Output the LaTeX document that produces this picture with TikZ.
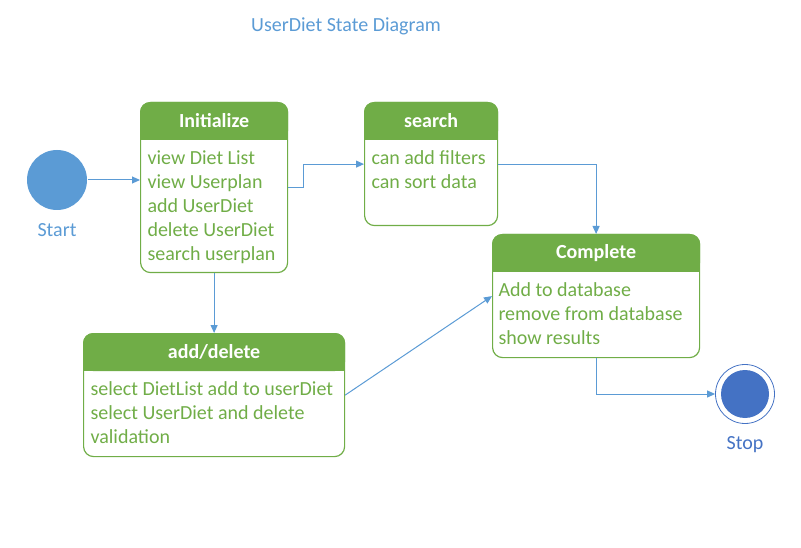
\documentclass[tikz,border=0pt]{standalone}
\usepackage{fontspec}
\setmainfont{Carlito}
\usepackage{tikz}
\usetikzlibrary{backgrounds}
\usetikzlibrary{positioning}
\usetikzlibrary{arrows.meta}
\definecolor{umlgreen}{HTML}{70AD47}
\definecolor{umlblue}{HTML}{5B9BD5}
\definecolor{umldark}{HTML}{4472C4}

\begin{document}
\begin{tikzpicture}[
            x = 1pt, y = -1pt, % pixel grid, y downwards
            > = {Triangle[length=8pt,width=7pt]}, % arrow head style
            line width = 1pt,
            statebox/.style = {draw = umlgreen, line width = 1.2pt, rounded corners = 10pt, anchor = north west, inner sep = 0pt},
            headtext/.style = {text = white, font = \fontsize{20}{24}\selectfont\bfseries},
            bodytext/.style = {text = umlgreen, anchor = north west, align = left, inner sep = 0pt, font = \fontsize{20}{24}\selectfont},
            trans/.style = {draw = umlblue, ->}
        ]

        \useasboundingbox (0,0) rectangle (801,548);

        % title
        \node[text = umlblue, font = \fontsize{20}{24}\selectfont] (title) at (346,26) {UserDiet State Diagram};

        % start and stop
        \node[circle, fill = umlblue, minimum size = 60pt, inner sep = 0pt] (start) at (57,180) {};
        \node[text = umlblue, font = \fontsize{20}{24}\selectfont] (startlbl) at (57,230) {Start};

        \node[circle, draw = umldark, line width = 0.8pt, fill = white, minimum size = 59pt, inner sep = 0pt] (stop) at (745,394) {};
        \node[circle, fill = umldark, minimum size = 48pt, inner sep = 0pt] (stopdot) at (stop.center) {};
        \node[text = umldark, font = \fontsize{20}{24}\selectfont] (stoplbl) at (745,445) {Stop};

        % states
        \node[statebox, minimum width = 147pt, minimum height = 170pt] (init) at (140,102) {};
        \node[statebox, minimum width = 133pt, minimum height = 123pt] (search) at (364,102) {};
        \node[statebox, minimum width = 207pt, minimum height = 123pt] (complete) at (492,234) {};
        \node[statebox, minimum width = 261pt, minimum height = 123pt] (adddel) at (83,333) {};

        \begin{scope}[on background layer]
        \foreach \s in {init, search, complete, adddel} {
            \fill[umlgreen, rounded corners = 10pt] (\s.north west) rectangle ([yshift=-38pt]\s.north east);
            \fill[umlgreen] ([yshift=-20pt]\s.north west) rectangle ([yshift=-38pt]\s.north east);
        }
        \end{scope}

        \node[headtext] (inithead) at ([yshift=-19pt]init.north) {Initialize};
        \node[headtext] (searchhead) at ([yshift=-19pt]search.north) {search};
        \node[headtext] (completehead) at ([yshift=-19pt]complete.north) {Complete};
        \node[headtext] (adddelhead) at ([yshift=-19pt]adddel.north) {add/delete};

        \node[bodytext] (initbody) at ([xshift=7pt,yshift=-48pt]init.north west)
            {view Diet List\\view Userplan\\add UserDiet\\delete UserDiet\\search userplan};
        \node[bodytext] (searchbody) at ([xshift=7pt,yshift=-48pt]search.north west)
            {can add filters\\can sort data};
        \node[bodytext] (completebody) at ([xshift=6pt,yshift=-48pt]complete.north west)
            {Add to database\\remove from database\\show results};
        \node[bodytext] (adddelbody) at ([xshift=7pt,yshift=-48pt]adddel.north west)
            {select DietList add to userDiet\\select UserDiet and delete\\validation};

        % transitions
        \path[trans] (start) -- (start -| init.west);
        \path[trans] (init.east) -- ++(15,0) |- (search.west);
        \path[trans] (search.east) -| (complete.north);
        \path[trans] (init.south) -- (adddel.north);
        \path[trans] (adddel.east) -- (complete.west);
        \path[trans] (complete.south) |- (stop.west);

  \end{tikzpicture}
\end{document}
